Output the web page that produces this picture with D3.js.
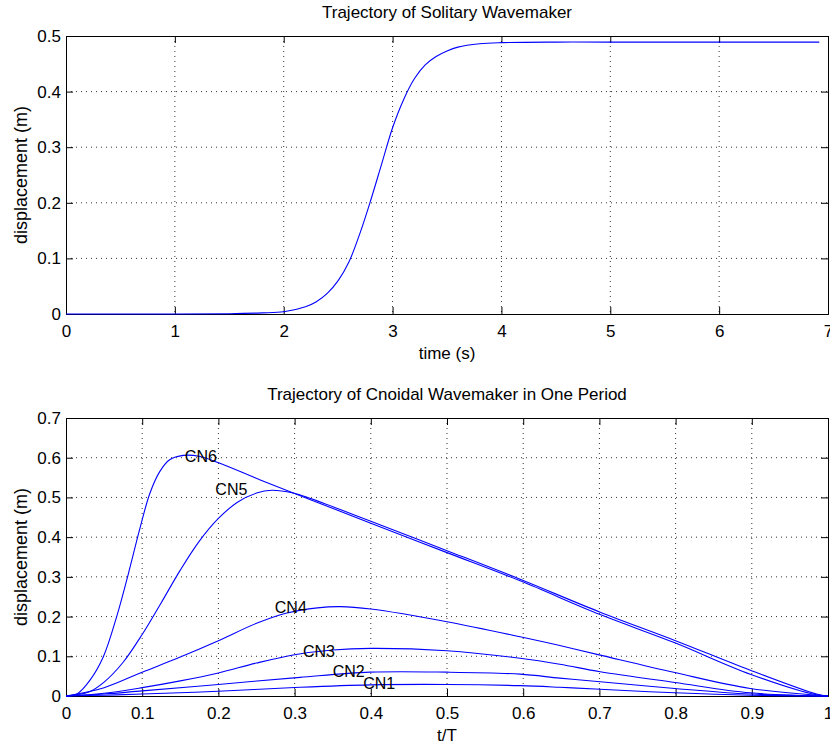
<!DOCTYPE html>
<html>
<head>
<meta charset="utf-8">
<script src="https://cdn.jsdelivr.net/npm/d3@7.9.0/dist/d3.min.js"></script>
<style>
  body { margin: 0; background: #fff; }
  svg { font-family: "Liberation Sans", Arial, Helvetica, sans-serif; }
  .grid line { stroke: #333; stroke-dasharray: 1 4; stroke-width: 1; }
</style>
</head>
<body>
<svg id="chart" width="830" height="747"></svg>
<script>
// top panel: solitary wavemaker trajectory
const solTime = [0, 1, 1.5, 1.8, 2.0, 2.2, 2.3, 2.4, 2.5, 2.6, 2.7, 2.8, 2.9, 3.0, 3.1, 3.2, 3.3, 3.4, 3.5, 3.6, 3.8, 4.0, 4.5, 5.0, 6.92];
const solDisp = [0, 0, 0.0005, 0.002, 0.004, 0.013, 0.022, 0.037, 0.060, 0.094, 0.145, 0.205, 0.270, 0.335, 0.385, 0.423, 0.448, 0.463, 0.473, 0.480, 0.486, 0.488, 0.489, 0.489, 0.489];

// bottom panel: cnoidal wavemaker, [t/T, displacement]
const cn1 = [[0, 0], [0.05, 0.002], [0.1, 0.005], [0.2, 0.012], [0.307, 0.022], [0.399, 0.028], [0.5, 0.029], [0.596, 0.026], [0.648, 0.022], [0.701, 0.017], [0.799, 0.008], [0.898, 0.002], [1, 0]];
const cn2 = [[0, 0], [0.05, 0.005], [0.1, 0.013], [0.2, 0.029], [0.307, 0.047], [0.399, 0.060], [0.5, 0.060], [0.596, 0.055], [0.648, 0.045], [0.701, 0.036], [0.799, 0.019], [0.898, 0.005], [1, 0]];
const cn3 = [[0, 0], [0.05, 0.007], [0.1, 0.021], [0.15, 0.038], [0.2, 0.058], [0.25, 0.083], [0.3, 0.104], [0.35, 0.116], [0.4, 0.120], [0.5, 0.114], [0.596, 0.095], [0.648, 0.080], [0.701, 0.061], [0.799, 0.034], [0.898, 0.008], [1, 0]];
const cn4 = [[0, 0], [0.05, 0.021], [0.1, 0.060], [0.15, 0.098], [0.2, 0.139], [0.25, 0.183], [0.29, 0.209], [0.33, 0.222], [0.36, 0.225], [0.4, 0.219], [0.5, 0.187], [0.596, 0.149], [0.648, 0.127], [0.701, 0.103], [0.799, 0.059], [0.898, 0.019], [1, 0]];
const cn5 = [[0, 0], [0.03, 0.010], [0.05, 0.035], [0.075, 0.085], [0.1, 0.155], [0.125, 0.235], [0.15, 0.317], [0.175, 0.390], [0.2, 0.447], [0.225, 0.488], [0.25, 0.511], [0.27, 0.518], [0.298, 0.511], [0.320, 0.498], [0.4, 0.440], [0.5, 0.366], [0.596, 0.294], [0.701, 0.211], [0.799, 0.140], [0.898, 0.065], [0.985, 0.005], [1, 0]];
const cn6 = [[0, 0], [0.015, 0.006], [0.0315, 0.040], [0.049, 0.099], [0.0665, 0.200], [0.082, 0.309], [0.097, 0.422], [0.110, 0.510], [0.123, 0.565], [0.136, 0.595], [0.154, 0.606], [0.176, 0.603], [0.202, 0.586], [0.255, 0.544], [0.320, 0.495], [0.4, 0.435], [0.5, 0.361], [0.596, 0.290], [0.701, 0.205], [0.799, 0.134], [0.898, 0.055], [0.985, 0.003], [1, 0]];
const cnSeries = [cn1, cn2, cn3, cn4, cn5, cn6];
const cnNames = ['CN1', 'CN2', 'CN3', 'CN4', 'CN5', 'CN6'];
const cnLabelAt = [[0.390, 0.031], [0.350, 0.062], [0.311, 0.113], [0.274, 0.224], [0.196, 0.519], [0.156, 0.604]];

const solXTicks = d3.range(0, 8);
const solYTicks = [0, 0.1, 0.2, 0.3, 0.4, 0.5];
const cnXTicks = d3.range(0, 11).map(d => d / 10);
const cnYTicks = d3.range(0, 8).map(d => d / 10);

const svg = d3.select('#chart');
const left = 66, right = 828;

function drawPanel(cfg) {
  const x = d3.scaleLinear().domain(cfg.xDomain).range([left, right]);
  const y = d3.scaleLinear().domain(cfg.yDomain).range([cfg.bottom, cfg.top]);
  const g = svg.append('g');

  // dotted grid
  const grid = g.append('g').attr('class', 'grid');
  grid.selectAll('.gx').data(cfg.xTicks.slice(1, -1)).join('line')
    .attr('x1', d => x(d)).attr('x2', d => x(d))
    .attr('y1', cfg.top).attr('y2', cfg.bottom);
  grid.selectAll('.gy').data(cfg.yTicks.slice(1, -1)).join('line')
    .attr('class', 'gy')
    .attr('x1', left).attr('x2', right)
    .attr('y1', d => y(d)).attr('y2', d => y(d));

  // axes with inward ticks (matlab style)
  const fmt = d => d3.format('~g')(d);
  const tk = 7;
  g.append('g').attr('transform', `translate(0,${cfg.bottom})`)
    .call(d3.axisBottom(x).tickValues(cfg.xTicks).tickSize(-tk).tickPadding(11).tickFormat(fmt));
  g.append('g').attr('transform', `translate(0,${cfg.top})`)
    .call(d3.axisTop(x).tickValues(cfg.xTicks).tickSize(-tk).tickFormat(''));
  g.append('g').attr('transform', `translate(${left},0)`)
    .call(d3.axisLeft(y).tickValues(cfg.yTicks).tickSize(-tk).tickPadding(5).tickFormat(fmt));
  g.append('g').attr('transform', `translate(${right},0)`)
    .call(d3.axisRight(y).tickValues(cfg.yTicks).tickSize(-tk).tickFormat(''));
  g.selectAll('.domain').attr('stroke', '#000');
  g.selectAll('.tick line').attr('stroke', '#000');
  g.selectAll('.tick text').attr('font-size', 17).attr('fill', '#000')
    .attr('font-family', '"Liberation Sans", Arial, sans-serif');

  // curves
  const line = d3.line().x(d => x(d[0])).y(d => y(d[1])).curve(d3.curveCatmullRom.alpha(0.5));
  g.append('g').selectAll('path').data(cfg.series).join('path')
    .attr('d', line).attr('fill', 'none').attr('stroke', '#0000ff').attr('stroke-width', 1.1);

  // titles / labels
  g.append('text').attr('x', (left + right) / 2).attr('y', cfg.top - 18)
    .attr('text-anchor', 'middle').attr('font-size', 17).text(cfg.title);
  g.append('text').attr('x', (left + right) / 2).attr('y', cfg.bottom + 45)
    .attr('text-anchor', 'middle').attr('font-size', 17).text(cfg.xLabel);
  g.append('text')
    .attr('transform', `translate(27,${(cfg.top + cfg.bottom) / 2}) rotate(-90)`)
    .attr('text-anchor', 'middle').attr('font-size', 18).text(cfg.yLabel);
  return { x, y, g };
}

drawPanel({
  xDomain: [0, 7], yDomain: [0, 0.5], top: 36, bottom: 314,
  xTicks: solXTicks, yTicks: solYTicks,
  series: [d3.zip(solTime, solDisp)],
  title: 'Trajectory of Solitary Wavemaker', xLabel: 'time (s)', yLabel: 'displacement (m)'
});

const bot = drawPanel({
  xDomain: [0, 1], yDomain: [0, 0.7], top: 418, bottom: 696,
  xTicks: cnXTicks, yTicks: cnYTicks,
  series: cnSeries,
  title: 'Trajectory of Cnoidal Wavemaker in One Period', xLabel: 't/T', yLabel: 'displacement (m)'
});

bot.g.append('g').selectAll('text').data(cnNames).join('text')
  .attr('x', (d, i) => bot.x(cnLabelAt[i][0]))
  .attr('y', (d, i) => bot.y(cnLabelAt[i][1]))
  .attr('dominant-baseline', 'central')
  .attr('font-size', 16)
  .text(d => d);
</script>
</body>
</html>
